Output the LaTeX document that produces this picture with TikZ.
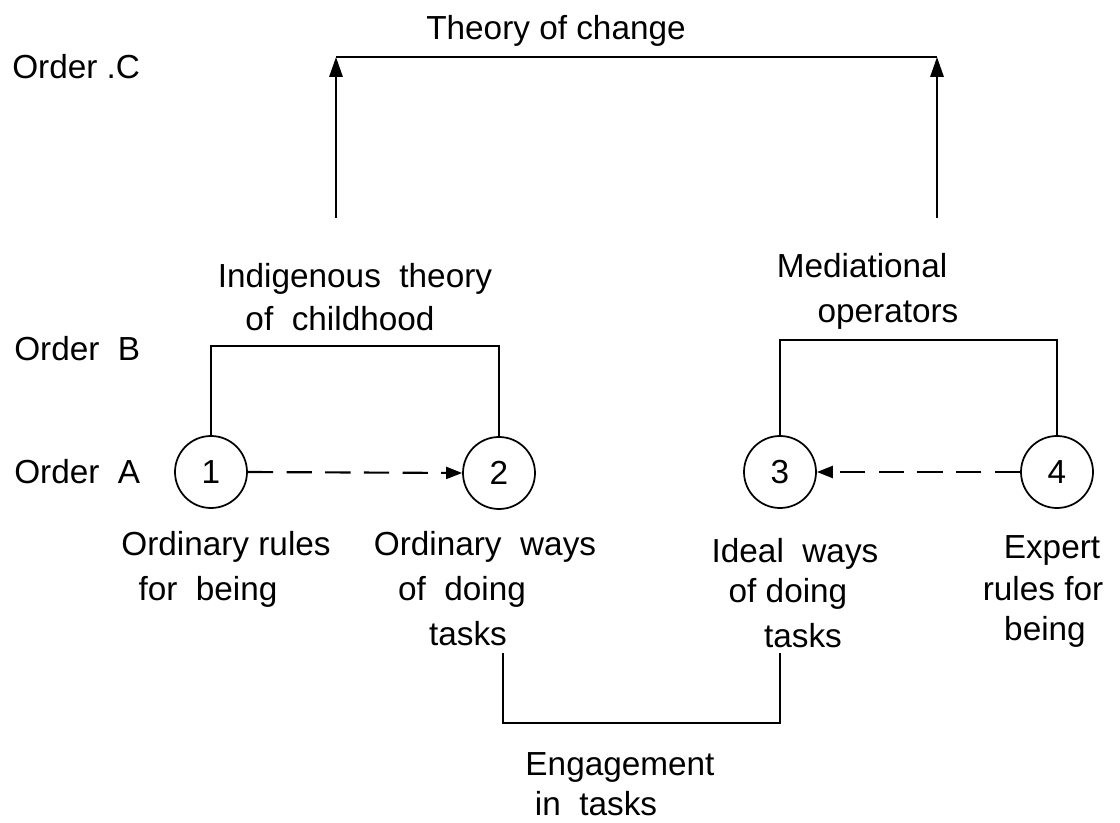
\documentclass[tikz,border=0pt]{standalone}
\usepackage{fontspec}
\setmainfont{Liberation Sans}
\usetikzlibrary{arrows.meta}
\begin{document}
\begin{tikzpicture}[x=0.75pt,y=-0.75pt,
  lbl/.style={anchor=base,inner sep=0pt,font=\fontsize{25}{30}\selectfont},
  lblw/.style={lbl,anchor=base west},
  circ/.style={draw,circle,line width=1.3pt,minimum size=54pt,inner sep=0pt,font=\fontsize{25}{30}\selectfont},
  conn/.style={line width=1.6pt},
  tri/.style={-{Triangle[length=15pt,width=10pt]}},
  dasharr/.style={conn,dash pattern=on 19pt off 10pt,-{Triangle[length=12pt,width=9pt]}}]
\useasboundingbox (0,0) rectangle (1120,823);

% order labels
\node[lblw] (oC) at (12,79) {Order .C};
\node[lblw] (oB) at (14,360) {Order \ B};
\node[lblw] (oA) at (14,483) {Order \ A};

% top
\node[lbl] (toc) at (556,40) {Theory of change};
\coordinate (tL) at (336,57);
\coordinate (tR) at (937,57);
\coordinate (aL) at (336,218);
\coordinate (aR) at (937,218);
\draw[conn] (tL) -- (tR);
\draw[conn,tri] (aL) -- (tL);
\draw[conn,tri] (aR) -- (tR);

% order B labels
\node[lbl] (ind1) at (355,288) {Indigenous \ theory};
\node[lbl] (ind2) at (340,330) {of \ childhood};
\node[lbl] (med1) at (862,278) {Mediational};
\node[lbl] (med2) at (888,323) {operators};

% circles
\node[circ] (c1) at (211,472) {1};
\node[circ] (c2) at (499,473) {2};
\node[circ] (c3) at (780,472) {3};
\node[circ] (c4) at (1057,472) {4};

% brackets order B
\coordinate (bB1) at (355,346);
\coordinate (bB2) at (918,340);
\draw[conn] (c1.north) |- (bB1) -| (c2.north);
\draw[conn] (c3.north) |- (bB2) -| (c4.north);

% dashed arrows
\draw[dasharr] (c1.east) -- (c2.west);
\draw[dasharr] (c4.west) -- (c3.east);

% order A labels
\node[lbl] (l1a) at (226,555) {Ordinary rules};
\node[lbl] (l1b) at (208,600) {for \ being};
\node[lbl] (l2a) at (485,555) {Ordinary \ ways};
\node[lbl] (l2b) at (462,600) {of \ doing};
\node[lbl] (l2c) at (468,645) {tasks};
\node[lbl] (l3a) at (795,562) {Ideal \ ways};
\node[lbl] (l3b) at (788,602) {of doing};
\node[lbl] (l3c) at (803,647) {tasks};
\node[lbl] (l4a) at (1052,558) {Expert};
\node[lbl] (l4b) at (1043,600) {rules for};
\node[lbl] (l4c) at (1045,640) {being};

% bottom bracket
\coordinate (e1) at (503,653);
\coordinate (e2) at (780,653);
\coordinate (eb) at (640,723);
\draw[conn] (e1) |- (eb) -| (e2);
\node[lbl] (eng1) at (620,775) {Engagement};
\node[lbl] (eng2) at (596,815) {in \ tasks};
\end{tikzpicture}
\end{document}
